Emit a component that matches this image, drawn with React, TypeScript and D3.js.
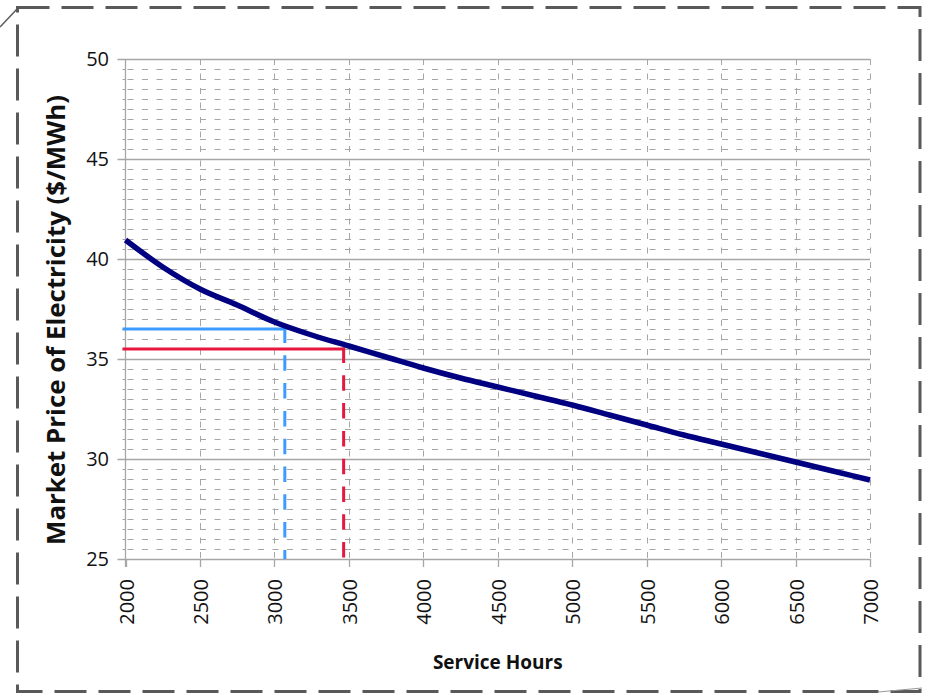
import React from "react";
import * as d3 from "d3";

const hours = [2000, 2250, 2500, 2750, 3000, 3250, 3500, 3750, 4000, 4250, 4500, 4750, 5000, 5250, 5500, 5750, 6000, 6250, 6500, 6750, 7000];
const price = [40.95, 39.6, 38.5, 37.7, 36.85, 36.2, 35.65, 35.1, 34.55, 34.05, 33.6, 33.15, 32.7, 32.2, 31.7, 31.2, 30.75, 30.3, 29.85, 29.4, 28.95];

const xTicks = [2000, 2500, 3000, 3500, 4000, 4500, 5000, 5500, 6000, 6500, 7000];
const yTicks = [25, 30, 35, 40, 45, 50];

const markerHours = [3070, 3465];
const markerPrice = [36.5, 35.5];
const markerColors = ["#3d9bff", "#e8173d"];

const W = 926;
const H = 695;

export default function App() {
  const x = d3.scaleLinear().domain([2000, 7000]).range([125.5, 870]);
  const y = d3.scaleLinear().domain([25, 50]).range([559, 59]);
  const x0 = x(2000);
  const x1 = x(7000);
  const yTop = y(50);
  const yBot = y(25);

  const minor = d3.range(25.5, 50, 0.5).filter((v) => Math.abs(v % 5) > 1e-6);
  const line = d3
    .line<number>()
    .x((_, i) => x(hours[i]))
    .y((d) => y(d))
    .curve(d3.curveMonotoneX);

  const font = "'Open Sans', 'Noto Sans', sans-serif";
  const grid = "#a6a6a6";

  const bx0 = 17.5, by0 = 7.5, bx1 = 920, by1 = 691.5;

  return (
    <svg width={W} height={H} style={{ position: "fixed", left: 0, top: 0, background: "#fff" }} fontFamily={font}>
      {/* outer dashed frame */}
      <path
        d={`M${bx0},${by0}H${bx1}V${by1}H${bx0}Z`}
        fill="none"
        stroke="#595959"
        strokeWidth={3}
        strokeDasharray="32 12"
      />
      <line x1={0} y1={27} x2={bx0} y2={by0 + 1} stroke="#595959" strokeWidth={1.5} />
      <line x1={878} y1={692} x2={922} y2={688} stroke="#9a9a9a" strokeWidth={1} />

      {/* minor horizontal grid */}
      {minor.map((v) => (
        <g key={"mn" + v}>
          <line x1={x0 + 2} x2={x1} y1={Math.round(y(v)) + 0.5} y2={Math.round(y(v)) + 0.5} stroke={grid} strokeWidth={1} strokeDasharray="6 8.5" />
          <line x1={x0 - 3} x2={x0} y1={Math.round(y(v)) + 0.5} y2={Math.round(y(v)) + 0.5} stroke={grid} strokeWidth={1} />
        </g>
      ))}
      {/* vertical grid */}
      {xTicks.slice(1).map((t) => (
        <line key={"vg" + t} x1={Math.round(x(t)) + 0.5} x2={Math.round(x(t)) + 0.5} y1={yTop} y2={yBot} stroke={grid} strokeWidth={1} strokeDasharray="6 8.5" />
      ))}
      {/* major horizontal grid */}
      {yTicks.map((t) => (
        <line key={"mj" + t} x1={x0 - 8} x2={x1} y1={Math.round(y(t)) + 0.5} y2={Math.round(y(t)) + 0.5} stroke={grid} strokeWidth={1.3} />
      ))}
      {/* axes */}
      <line x1={x0} x2={x0} y1={yTop} y2={yBot + 8} stroke={grid} strokeWidth={1.3} />
      {xTicks.map((t) => (
        <line key={"xt" + t} x1={Math.round(x(t)) + 0.5} x2={Math.round(x(t)) + 0.5} y1={yBot} y2={yBot + 8} stroke={grid} strokeWidth={1.3} />
      ))}

      {/* y tick labels */}
      {yTicks.map((t) => (
        <text key={"yl" + t} x={109} y={y(t)} dy="0.36em" textAnchor="end" fontSize={20} fill="#111">
          {t}
        </text>
      ))}
      {/* x tick labels */}
      {xTicks.map((t) => (
        <text
          key={"xl" + t}
          transform={`translate(${x(t) + 8},579) rotate(-90)`}
          textAnchor="end"
          fontSize={20}
          fill="#111"
        >
          {t}
        </text>
      ))}

      {/* axis titles */}
      <text
        transform="translate(65,320) rotate(-90)"
        textAnchor="middle"
        fontSize={25}
        fontWeight="bold"
        fill="#111"
        textLength={450}
        lengthAdjust="spacingAndGlyphs"
      >
        Market Price of Electricity ($/MWh)
      </text>
      <text x={(x0 + x1) / 2} y={669} textAnchor="middle" fontSize={19} fontWeight="bold" fill="#111">
        Service Hours
      </text>

      {/* markers */}
      {markerHours.map((h, i) => (
        <g key={"mk" + i}>
          <line x1={x0 - 3} x2={x(h) + 1.5} y1={y(markerPrice[i])} y2={y(markerPrice[i])} stroke={markerColors[i]} strokeWidth={3} />
          <line x1={x(h)} x2={x(h)} y1={y(markerPrice[i]) - 1.5} y2={yBot} stroke={markerColors[i]} strokeWidth={3} strokeDasharray="15.5 12.3" />
        </g>
      ))}

      {/* curve */}
      <path d={line(price) || ""} fill="none" stroke="#000080" strokeWidth={5.5} />
    </svg>
  );
}
